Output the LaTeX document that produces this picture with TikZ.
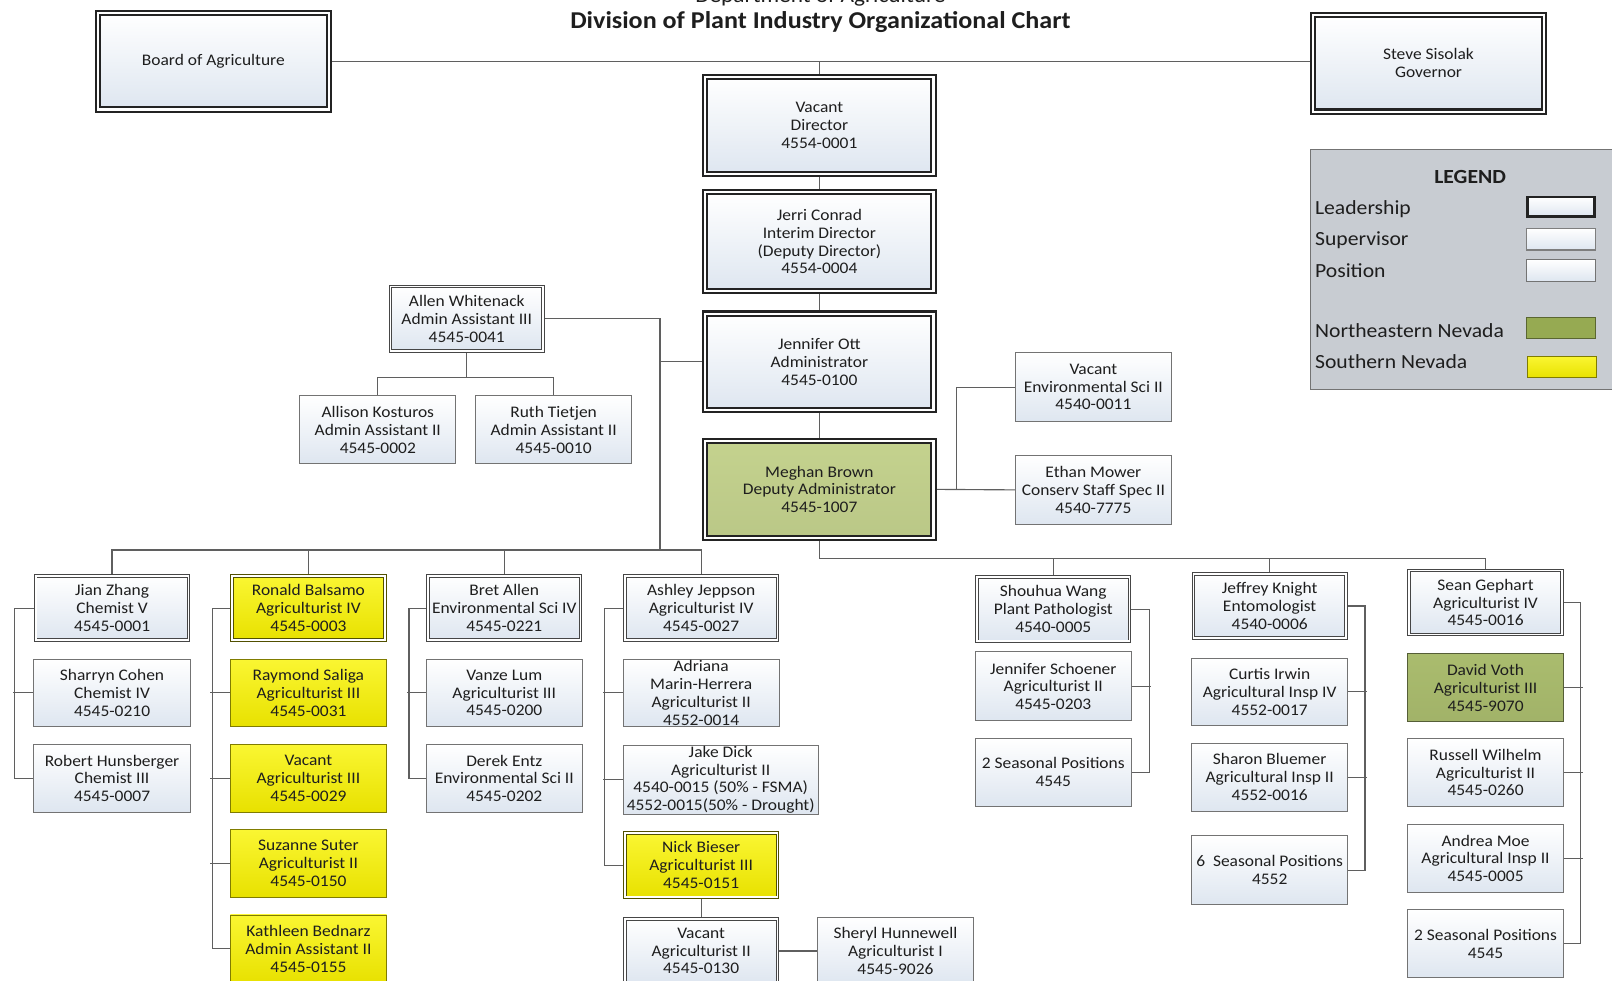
\documentclass[tikz,border=0pt]{standalone}
\usepackage{fontspec}
\setmainfont{Carlito}[FakeStretch=1.08]
\usetikzlibrary{backgrounds}
\definecolor{txt}{RGB}{30,30,30}
\definecolor{boxbot}{RGB}{222,230,240}
\definecolor{posline}{RGB}{115,115,115}
\definecolor{supline}{RGB}{70,70,70}
\definecolor{leadline}{RGB}{35,35,35}
\definecolor{conn}{RGB}{95,95,95}
\definecolor{yelA}{RGB}{250,246,50}
\definecolor{yelB}{RGB}{232,225,0}
\definecolor{grnM}{RGB}{196,210,142}
\definecolor{grnD}{RGB}{170,188,110}
\definecolor{grnL}{RGB}{150,170,82}
\definecolor{legbg}{RGB}{200,204,210}
\newcommand\boxfnt{\fontsize{15.7}{17.3}\selectfont}
\newcommand\legfnt{\fontsize{19.5}{22}\selectfont}
\newcommand\ttlfnt{\fontsize{23.5}{27}\selectfont\bfseries}
\begin{document}
\begin{tikzpicture}[x=1pt,y=-1pt,
  basebox/.style={inner sep=0pt, align=center, font=\boxfnt, text=txt,
     top color=white, bottom color=boxbot},
  posbox/.style={basebox, draw=posline, line width=0.9pt,
     minimum width=152pt, minimum height=66pt},
  supbox/.style={basebox, draw=supline, line width=0.9pt, double=white,
     double distance=1.6pt, minimum width=148.5pt, minimum height=62.5pt},
  leadbox/.style={basebox, draw=leadline, line width=2pt, double=white,
     double distance=2pt, minimum width=222pt, minimum height=94pt},
  fillc/.style={top color=#1, bottom color=#1!95!black},
  ylw/.style={top color=yelA, bottom color=yelB},
  ylwpos/.style={posbox, ylw, draw=yelB!55!black},
  ylwsup/.style={supbox, ylw, draw=yelB!35!black},
  link/.style={draw=conn, line width=1.1pt},
  legtxt/.style={font=\legfnt, text=txt, inner sep=0pt, anchor=base west},
  swatch/.style={minimum width=67pt, minimum height=21pt, inner sep=0pt}
]
\useasboundingbox (0,0) rectangle (1568,954);
\begin{scope}[on background layer]
\fill[white] (0,0) rectangle (1568,954);
\end{scope}

% title
\node[font=\fontsize{21}{24}\selectfont, text=txt, anchor=base] (dept) at (798,2) {Department of Agriculture};
\node[font=\ttlfnt, text=txt, anchor=base] (title) at (798,28) {Division of Plant Industry Organizational Chart};

% top leadership
\node[leadbox, minimum width=225pt] (board) at (207.5,59.5) {Board of Agriculture};
\node[leadbox, minimum width=225pt] (gov) at (1389.5,61.5) {Steve Sisolak\\Governor};
\node[leadbox] (dir) at (797,122) {Vacant\\Director\\4554-0001};
\node[leadbox, minimum height=96pt] (jerri) at (797,235) {Jerri Conrad\\Interim Director\\(Deputy Director)\\4554-0004};
\node[leadbox] (ott) at (797,352) {Jennifer Ott\\Administrator\\4545-0100};
\node[leadbox, fillc=grnM] (meghan) at (797,476) {Meghan Brown\\Deputy Administrator\\4545-1007};

% admin
\node[supbox] (allen) at (454,310) {Allen Whitenack\\Admin Assistant III\\4545-0041};
\node[posbox] (allison) at (367.5,418) {Allison Kosturos\\Admin Assistant II\\4545-0002};
\node[posbox] (ruth) at (538.5,418) {Ruth Tietjen\\Admin Assistant II\\4545-0010};
\node[posbox, minimum height=67pt] (envsci) at (1063.5,376.5) {Vacant\\Environmental Sci II\\4540-0011};
\node[posbox, minimum height=67pt] (ethan) at (1063.5,476.5) {Ethan Mower\\Conserv Staff Spec II\\4540-7775};

% column 1
\node[supbox] (jian) at (109,591.5) {Jian Zhang\\Chemist V\\4545-0001};
\node[posbox] (sharryn) at (109,674) {Sharryn Cohen\\Chemist IV\\4545-0210};
\node[posbox] (robert) at (109,757) {Robert Hunsberger\\Chemist III\\4545-0007};
% column 2
\node[ylwsup] (ronald) at (300,591.5) {Ronald Balsamo\\Agriculturist IV\\4545-0003};
\node[ylwpos] (raymond) at (300,674) {Raymond Saliga\\Agriculturist III\\4545-0031};
\node[ylwpos] (vac29) at (300,757) {Vacant\\Agriculturist III\\4545-0029};
\node[ylwpos] (suzanne) at (300,840) {Suzanne Suter\\Agriculturist II\\4545-0150};
\node[ylwpos] (kathleen) at (300,923) {Kathleen Bednarz\\Admin Assistant II\\4545-0155};
% column 3
\node[supbox] (bret) at (490.5,591.5) {Bret Allen\\Environmental Sci IV\\4545-0221};
\node[posbox] (vanze) at (490.5,674) {Vanze Lum\\Agriculturist III\\4545-0200};
\node[posbox] (derek) at (490.5,757) {Derek Entz\\Environmental Sci II\\4545-0202};
% column 4
\node[supbox] (ashley) at (682,591.5) {Ashley Jeppson\\Agriculturist IV\\4545-0027};
\node[posbox] (adriana) at (682,674) {Adriana\\Marin-Herrera\\Agriculturist II\\4552-0014};
\node[posbox, minimum width=190pt, minimum height=67pt] (jake) at (701,758.5) {Jake Dick\\Agriculturist II\\4540-0015 (50\% - FSMA)\\4552-0015(50\% - Drought)};
\node[ylwsup] (nick) at (682,841.5) {Nick Bieser\\Agriculturist III\\4545-0151};
\node[supbox] (vac130) at (682,925) {Vacant\\Agriculturist II\\4545-0130};
\node[posbox] (sheryl) at (871,925) {Sheryl Hunnewell\\Agriculturist I\\4545-9026};
% column 5
\node[supbox] (shouhua) at (1024.5,592.5) {Shouhua Wang\\Plant Pathologist\\4540-0005};
\node[posbox, minimum height=67pt] (jschoener) at (1024.5,667.5) {Jennifer Schoener\\Agriculturist II\\4545-0203};
\node[posbox] (seas5) at (1024.5,751) {2 Seasonal Positions\\4545};
% column 6
\node[supbox] (jeffrey) at (1235,589.5) {Jeffrey Knight\\Entomologist\\4540-0006};
\node[posbox] (curtis) at (1235,673) {Curtis Irwin\\Agricultural Insp IV\\4552-0017};
\node[posbox] (sharon) at (1235,756) {Sharon Bluemer\\Agricultural Insp II\\4552-0016};
\node[posbox, minimum height=67pt] (seas6) at (1235,846.5) {6\ \ Seasonal Positions\\4552};
% column 7
\node[supbox] (sean) at (1445,586) {Sean Gephart\\Agriculturist IV\\4545-0016};
\node[posbox, fillc=grnD, draw=grnD!50!black] (david) at (1445,669) {David Voth\\Agriculturist III\\4545-9070};
\node[posbox] (russell) at (1445,751.5) {Russell Wilhelm\\Agriculturist II\\4545-0260};
\node[posbox] (andrea) at (1445,835) {Andrea Moe\\Agricultural Insp II\\4545-0005};
\node[posbox] (seas7) at (1445,918) {2 Seasonal Positions\\4545};

% legend
\node[draw=posline, line width=0.9pt, fill=legbg, minimum width=300pt, minimum height=233pt, anchor=north west, inner sep=0pt] (legend) at (1274,145) {};
\node[font=\legfnt\bfseries, text=txt, anchor=base] (legtitle) at (1430,178) {LEGEND};
\node[legtxt] (lgl) at (1279,209) {Leadership};
\node[legtxt] (lgs) at (1279,239) {Supervisor};
\node[legtxt] (lgp) at (1279,270) {Position};
\node[legtxt] (lgn) at (1279,328) {Northeastern Nevada};
\node[legtxt] (lgy) at (1279,358) {Southern Nevada};
\node[swatch, basebox, draw=leadline, line width=2.6pt, minimum width=65pt, minimum height=19pt] (swl) at (1518.5,201) {};
\node[swatch, basebox, draw=supline!70!white, line width=1.4pt] (sws) at (1518.5,232.5) {};
\node[swatch, basebox, draw=posline, line width=0.9pt] (swp) at (1518.5,263) {};
\node[swatch, draw=grnL!60!black, line width=0.8pt, fill=grnL] (swn) at (1518.5,319) {};
\node[swatch, draw=yelB!55!black, line width=0.8pt, top color=yelA, bottom color=yelB] (swy) at (1519.5,357) {};

% connectors
\begin{scope}[on background layer]
\coordinate (spine) at (642,535);
\coordinate (lbus) at (0,535);
\coordinate (rbus) at (0,543);
\path[link] (board.east) -- (board.east -| gov.west);
\path[link] (dir.north) -- (dir.north |- board.east);
\path[link] (dir.south) -- (jerri.north);
\path[link] (jerri.south) -- (ott.north);
\path[link] (ott.south) -- (meghan.north);
\path[link] (allen.east) -| (spine);
\path[link] (ott.west) -- (ott.west -| spine);
\path[link] (allen.south) -- ++(0,25);
\path[link] (allison.north) -- ++(0,-17) -| (ruth.north);
\path[link] (envsci.west) -- ++(-57,0) |- (meghan.east);
\path[link] (meghan.east) -- (ethan.west);
% left bus
\path[link] (jian.north) |- (lbus -| ashley.north) -- (ashley.north);
\path[link] (ronald.north) -- (ronald.north |- lbus);
\path[link] (bret.north) -- (bret.north |- lbus);
% right bus
\path[link] (meghan.south) |- (rbus -| sean.north) -- (sean.north);
\path[link] (shouhua.north) -- (shouhua.north |- rbus);
\path[link] (jeffrey.north) -- (jeffrey.north |- rbus);
% column spines
\path[link] (jian.west) -- ++(-20,0) |- (robert.west);
\path[link] (sharryn.west) -- ++(-20,0);
\path[link] (ronald.west) -- ++(-19,0) |- (kathleen.west);
\path[link] (raymond.west) -- ++(-19,0);
\path[link] (vac29.west) -- ++(-19,0);
\path[link] (suzanne.west) -- ++(-19,0);
\path[link] (bret.west) -- ++(-18,0) |- (derek.west);
\path[link] (vanze.west) -- ++(-18,0);
\path[link] (ashley.west) -- ++(-19,0) |- (nick.west);
\path[link] (adriana.west) -- ++(-19,0);
\path[link] (jake.west) -- ++(-19,0);
\path[link] (nick.south) -- (vac130.north);
\path[link] (vac130.east) -- (sheryl.west);
\path[link] (shouhua.east) -- ++(19,0) |- (seas5.east);
\path[link] (jschoener.east) -- ++(19,0);
\path[link] (jeffrey.east) -- ++(18,0) |- (seas6.east);
\path[link] (curtis.east) -- ++(18,0);
\path[link] (sharon.east) -- ++(18,0);
\path[link] (sean.east) -- ++(18,0) |- (seas7.east);
\path[link] (david.east) -- ++(18,0);
\path[link] (russell.east) -- ++(18,0);
\path[link] (andrea.east) -- ++(18,0);
\end{scope}
\end{tikzpicture}
\end{document}
